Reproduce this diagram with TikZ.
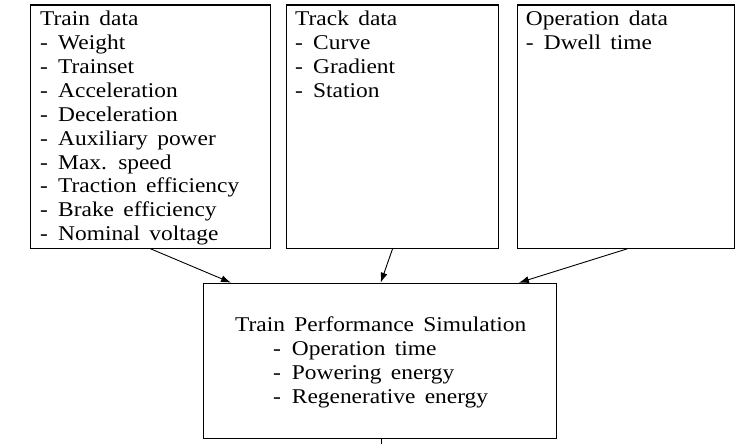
\documentclass[tikz,border=0pt]{standalone}
\usepackage{fontspec}
\setmainfont{Liberation Serif}[FakeStretch=1.115,WordSpace=1.6]
\usetikzlibrary{arrows.meta,calc}
\begin{document}
\begin{tikzpicture}[x=1pt,y=-1pt,
  box/.style={draw=black,line width=1.2pt,rectangle,inner sep=0pt,anchor=north west},
  txt/.style={anchor=base west,inner sep=0pt,font=\fontsize{21}{24}\selectfont},
  conn/.style={line width=0.9pt,-{Latex[length=10pt,width=7pt]}}]
\useasboundingbox (0,0) rectangle (744,444);
% boxes
\node[box,minimum width=240.5pt,minimum height=243pt] (train) at (29.5,4.5) {};
\node[box,minimum width=212pt,minimum height=243pt] (track) at (286,4.5) {};
\node[box,minimum width=217pt,minimum height=243pt] (oper) at (517,4.5) {};
\node[box,minimum width=353pt,minimum height=155.5pt] (sim) at (203,282.7) {};
% train data text
\node[txt] (t0) at (40,26) {Train data};
\foreach \i/\s in {1/Weight,2/Trainset,3/Acceleration,4/Deceleration,5/Auxiliary power,6/Max. speed,7/Traction efficiency,8/Brake efficiency,9/Nominal voltage}{
  \node[txt] (td\i) at (40,26+23.85*\i) {-};
  \node[txt] (tt\i) at (58,26+23.85*\i) {\s};
}
% track data text
\node[txt] (k0) at (295,26) {Track data};
\foreach \i/\s in {1/Curve,2/Gradient,3/Station}{
  \node[txt] (kd\i) at (295,26+23.85*\i) {-};
  \node[txt] (kt\i) at (313,26+23.85*\i) {\s};
}
% operation data text
\node[txt] (o0) at (525.7,26) {Operation data};
\node[txt] (od1) at (525.7,49.85) {-};
\node[txt] (ot1) at (543.7,49.85) {Dwell time};
% simulation text
\node[txt] (s0) at (235,331.7) {Train Performance Simulation};
\foreach \i/\s in {1/Operation time,2/Powering energy,3/Regenerative energy}{
  \node[txt] (sd\i) at (273,331.7+24*\i) {-};
  \node[txt] (st\i) at (291.7,331.7+24*\i) {\s};
}
% connectors
\draw[conn] (train.south) -- ($(sim.north west)+(28,0)$);
\draw[conn] (track.south) -- ($(sim.north west)+(177.7,0)$);
\draw[conn] ($(oper.south)+(1.5,0)$) -- ($(sim.north east)+(-38.3,0)$);
\coordinate (tick) at ($(sim.south)+(1.5,6)$);
\draw[line width=0.9pt] ($(sim.south)+(1.5,0)$) -- (tick);
\end{tikzpicture}
\end{document}
